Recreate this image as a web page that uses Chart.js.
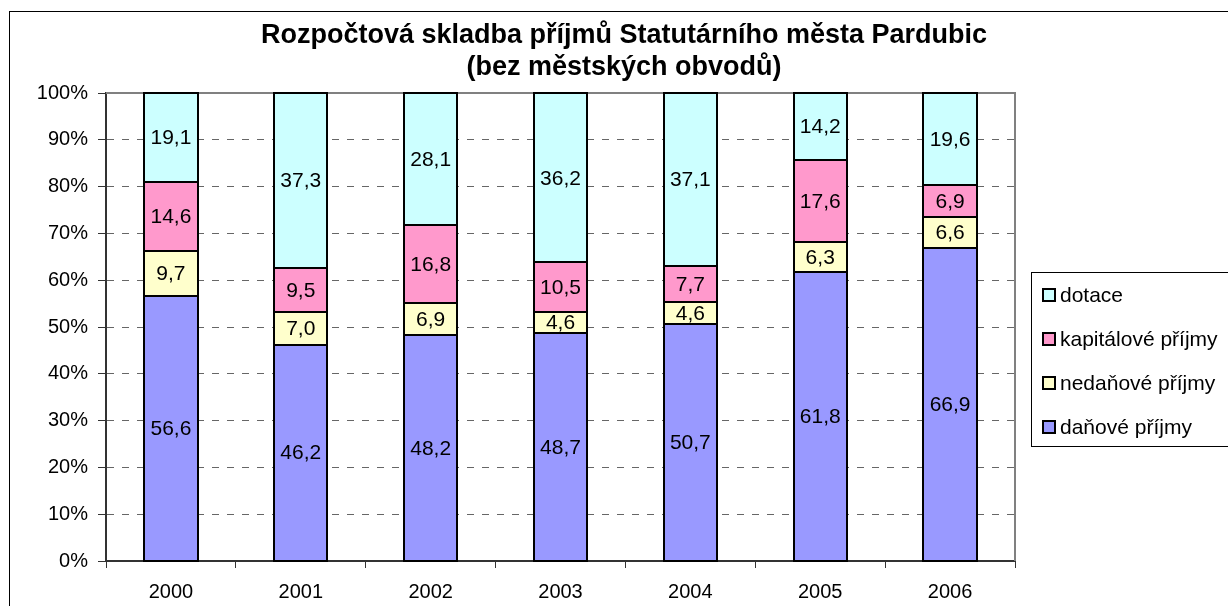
<!DOCTYPE html>
<html>
<head>
<meta charset="utf-8">
<script src="https://cdn.jsdelivr.net/npm/chart.js@4/dist/chart.umd.min.js"></script>
<style>
  html, body { margin: 0; padding: 0; background: #fff; }
  #wrap { width: 1228px; height: 606px; position: relative; }
</style>
</head>
<body>
<div id="wrap"><canvas id="myChart" width="1228" height="606"></canvas></div>
<script>
var years = ['2000', '2001', '2002', '2003', '2004', '2005', '2006'];
var danove = [56.6, 46.2, 48.2, 48.7, 50.7, 61.8, 66.9];
var nedanove = [9.7, 7.0, 6.9, 4.6, 4.6, 6.3, 6.6];
var kapitalove = [14.6, 9.5, 16.8, 10.5, 7.7, 17.6, 6.9];
var dotace = [19.1, 37.3, 28.1, 36.2, 37.1, 14.2, 19.6];
var titleLines = ['Rozpočtová skladba příjmů Statutárního města Pardubic', '(bez městských obvodů)'];

var FONT = '"Liberation Sans", Arial, sans-serif';

// outer frame, title, plot border, bar outlines, value labels, legend
var excelLook = {
    id: 'excelLook',
    beforeDraw: function(chart) {
        var c = chart.ctx;
        c.save();
        c.fillStyle = '#fff';
        c.fillRect(0, 0, chart.width, chart.height);
        c.strokeStyle = '#000';
        c.lineWidth = 1;
        c.strokeRect(9.5, 11.5, 1240, 620);
        c.fillStyle = '#000';
        c.font = 'bold 27px ' + FONT;
        c.textAlign = 'center';
        c.textBaseline = 'middle';
        c.fillText(titleLines[0], 624, 36);
        c.fillText(titleLines[1], 624, 68);
        c.restore();
    },
    afterDatasetsDraw: function(chart) {
        var c = chart.ctx;
        c.save();
        c.strokeStyle = '#000';
        c.lineWidth = 2;
        chart.data.datasets.forEach(function(ds, i) {
            chart.getDatasetMeta(i).data.forEach(function(bar) {
                var top = Math.round(Math.min(bar.y, bar.base));
                var bot = Math.round(Math.max(bar.y, bar.base));
                var l = Math.round(bar.x - bar.width / 2);
                var r = Math.round(bar.x + bar.width / 2);
                c.strokeRect(l, top, r - l, bot - top);
            });
        });
        c.restore();
    },
    afterDraw: function(chart) {
        var c = chart.ctx;
        var a = chart.chartArea;
        c.save();
        // top + right border of plot area
        c.strokeStyle = '#808080';
        c.lineWidth = 2;
        c.beginPath();
        c.moveTo(a.left, a.top);
        c.lineTo(a.right, a.top);
        c.lineTo(a.right, a.bottom);
        c.stroke();
        // redraw bar tops that sit on the 100% line
        c.strokeStyle = '#000';
        var meta = chart.getDatasetMeta(chart.data.datasets.length - 1);
        meta.data.forEach(function(bar) {
            c.beginPath();
            c.moveTo(Math.round(bar.x - bar.width / 2) - 1, Math.round(bar.y));
            c.lineTo(Math.round(bar.x + bar.width / 2) + 1, Math.round(bar.y));
            c.stroke();
        });

        // value labels
        c.fillStyle = '#000';
        c.font = '21px ' + FONT;
        c.textAlign = 'center';
        c.textBaseline = 'middle';
        chart.data.datasets.forEach(function(ds, i) {
            chart.getDatasetMeta(i).data.forEach(function(bar, j) {
                var txt = ds.data[j].toFixed(1).replace('.', ',');
                c.fillText(txt, bar.x, (bar.y + bar.base) / 2 + 1);
            });
        });

        // legend
        c.strokeStyle = '#000';
        c.lineWidth = 1;
        c.strokeRect(1031.5, 272.5, 220, 174);
        c.font = '21px ' + FONT;
        var items = chart.data.datasets.slice().reverse();
        items.forEach(function(ds, k) {
            var y = 295 + k * 44;
            c.fillStyle = ds.backgroundColor;
            c.fillRect(1043, y - 6, 12, 12);
            c.strokeStyle = '#000';
            c.lineWidth = 2;
            c.strokeRect(1043, y - 6, 12, 12);
            c.fillStyle = '#000';
            c.textAlign = 'left';
            c.fillText(ds.label, 1060, y + 1);
        });
        c.restore();
    }
};

var ctx = document.getElementById('myChart').getContext('2d');
var barChart = new Chart(ctx, {
    type: 'bar',
    data: {
        labels: years,
        datasets: [
            { label: 'daňové příjmy', data: danove, backgroundColor: '#9999ff' },
            { label: 'nedaňové příjmy', data: nedanove, backgroundColor: '#ffffcc' },
            { label: 'kapitálové příjmy', data: kapitalove, backgroundColor: '#ff99cc' },
            { label: 'dotace', data: dotace, backgroundColor: '#ccffff' }
        ].map(function(d) {
            d.borderWidth = 0;
            d.categoryPercentage = 1;
            d.barPercentage = 0.41;
            return d;
        })
    },
    options: {
        responsive: false,
        animation: false,
        devicePixelRatio: 1,
        layout: { padding: { left: 0, top: 93, right: 213, bottom: 0 } },
        plugins: {
            legend: { display: false },
            title: { display: false },
            tooltip: { enabled: false }
        },
        scales: {
            x: {
                stacked: true,
                afterFit: function(s) { s.height = 45; },
                grid: {
                    drawOnChartArea: false,
                    offset: true,
                    tickLength: 7,
                    tickColor: '#333',
                    color: '#333'
                },
                border: { color: '#333', width: 2 },
                ticks: { color: '#000', font: { family: FONT, size: 20 }, padding: 12 }
            },
            y: {
                stacked: true,
                min: 0,
                max: 100,
                afterFit: function(s) { s.width = 106; },
                grid: {
                    color: function(c) {
                        return (c.tick && (c.tick.value === 0 || c.tick.value === 100)) ? 'rgba(0,0,0,0)' : '#666';
                    },
                    lineWidth: 1,
                    tickLength: 8,
                    tickColor: '#333',
                    tickBorderDash: []
                },
                border: { color: '#333', width: 2, dash: [7, 8] },
                ticks: {
                    stepSize: 10,
                    color: '#000',
                    padding: 10,
                    font: { family: FONT, size: 20 },
                    callback: function(v) { return v + '%'; }
                }
            }
        }
    },
    plugins: [excelLook]
});
</script>
</body>
</html>
